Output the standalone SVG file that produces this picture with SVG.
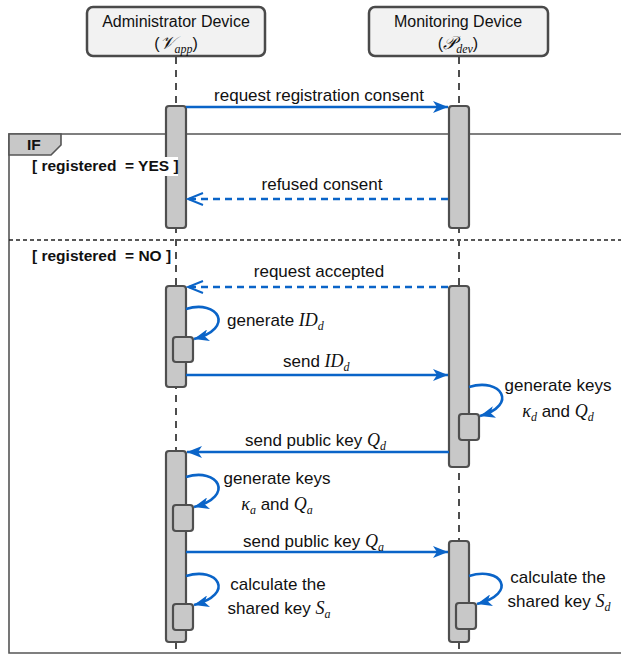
<svg xmlns="http://www.w3.org/2000/svg" width="621" height="655" viewBox="0 0 621 655">
<style>
.head{fill:#f2f2f2;stroke:#4a4a4a;stroke-width:2.5}
.life{stroke:#4d4d4d;stroke-width:2;stroke-dasharray:7 6;fill:none}
.bar{fill:#c8c8c8;stroke:#4f4f4f;stroke-width:2.2}
.t{font-family:"Liberation Sans",Arial,sans-serif;font-size:16px;fill:#111}
.l{font-size:17px}
.m{font-family:"Liberation Serif","Times New Roman",serif;font-style:italic;font-size:18px}
.sub{font-family:"Liberation Serif","Times New Roman",serif;font-style:italic;font-size:12px}
.b{font-family:"Liberation Sans",Arial,sans-serif;font-size:15.5px;font-weight:bold;fill:#111;white-space:pre}
.msg{stroke:#0a64c8;stroke-width:2.3;fill:none}
.loop{stroke-width:2.6}
.dash{stroke-dasharray:7 5}
.frame{fill:none;stroke:#555;stroke-width:1.6}
</style>
<defs>
<marker id="ah" markerUnits="userSpaceOnUse" markerWidth="16" markerHeight="12" refX="15" refY="6" orient="auto">
<path d="M0,0 L15,6 L0,12 L4,6 z" fill="#0a64c8"/>
</marker>
<marker id="ao" markerUnits="userSpaceOnUse" markerWidth="18" markerHeight="16" refX="16" refY="8" orient="auto">
<path d="M1,2 L16,8 L1,14" fill="none" stroke="#0a64c8" stroke-width="2"/>
</marker>
</defs>

<g id="frame">
<path class="frame" d="M625,134 H9 V653 H625"/>
<path d="M9,134 H61 V145 L51,155 H9 Z" fill="#c8c8c8" stroke="#555" stroke-width="1.6"/>
<text class="b" x="27" y="150">IF</text>
<line x1="9" y1="240" x2="621" y2="240" stroke="#222" stroke-width="1.3" stroke-dasharray="4 3"/>
</g>

<g id="lifelines">
<line class="life" x1="176" y1="57" x2="176" y2="655"/>
<line class="life" x1="459" y1="57" x2="459" y2="655"/>
</g>

<g id="admin">
<rect class="head" x="87" y="7" width="178" height="49" rx="6"/>
<text class="t" x="176" y="27" text-anchor="middle">Administrator Device</text>
<text class="t" x="176" y="49" text-anchor="middle">(<tspan class="m">𝒱</tspan><tspan class="sub" dy="4">app</tspan><tspan dy="-4">)</tspan></text>
</g>

<g id="monitor">
<rect class="head" x="369" y="7" width="179" height="49" rx="6"/>
<text class="t" x="458" y="27" text-anchor="middle">Monitoring Device</text>
<text class="t" x="458" y="49" text-anchor="middle">(<tspan class="m">𝒫</tspan><tspan class="sub" dy="4">dev</tspan><tspan dy="-4">)</tspan></text>
</g>

<g id="admin-act1"><rect class="bar" x="166" y="106" width="20" height="122" rx="3"/></g>
<g id="monitor-act1"><rect class="bar" x="449" y="106" width="20" height="122" rx="3"/></g>
<g id="admin-act2">
<rect class="bar" x="166" y="286" width="20" height="101" rx="3"/>
<rect class="bar" x="173" y="337" width="20" height="25" rx="3"/>
</g>
<g id="monitor-act2">
<rect class="bar" x="449" y="286" width="20" height="181" rx="3"/>
<rect class="bar" x="459" y="414" width="20" height="26" rx="3"/>
</g>
<g id="admin-act3">
<rect class="bar" x="166" y="451" width="20" height="191" rx="3"/>
<rect class="bar" x="173" y="505" width="20" height="26" rx="3"/>
<rect class="bar" x="173" y="604" width="20" height="26" rx="3"/>
</g>
<g id="monitor-act3">
<rect class="bar" x="449" y="541" width="20" height="101" rx="3"/>
<rect class="bar" x="456" y="603" width="20" height="26" rx="3"/>
</g>

<g id="guards">
<rect x="30" y="157" width="148" height="19" fill="#fff"/>
<text class="b" x="32" y="171">[ registered  = YES ]</text>
<rect x="30" y="247" width="141" height="19" fill="#fff"/>
<text class="b" x="32" y="261">[ registered  = NO ]</text>
</g>

<g id="connectors">
<line class="msg" x1="186" y1="107" x2="448" y2="107" marker-end="url(#ah)"/>
<line class="msg dash" x1="448" y1="199" x2="188" y2="199" marker-end="url(#ao)"/>
<line class="msg dash" x1="448" y1="287" x2="188" y2="287" marker-end="url(#ao)"/>
<path class="msg loop" d="M186,309 C218,299 236,328 194,339" marker-end="url(#ah)"/>
<line class="msg" x1="186" y1="375" x2="448" y2="375" marker-end="url(#ah)"/>
<path class="msg loop" d="M469,387 C501,377 519,405 480,416" marker-end="url(#ah)"/>
<line class="msg" x1="449" y1="452" x2="187" y2="452" marker-end="url(#ah)"/>
<path class="msg loop" d="M186,477 C218,467 236,496 194,507" marker-end="url(#ah)"/>
<line class="msg" x1="186" y1="552" x2="448" y2="552" marker-end="url(#ah)"/>
<path class="msg loop" d="M186,576 C218,566 236,594 194,605" marker-end="url(#ah)"/>
<path class="msg loop" d="M469,576 C501,566 519,593 477,604" marker-end="url(#ah)"/>
</g>

<g id="labels">
<text class="t l" x="319" y="101" text-anchor="middle">request registration consent</text>
<text class="t l" x="322" y="190" text-anchor="middle">refused consent</text>
<text class="t l" x="319" y="277" text-anchor="middle">request accepted</text>
<text class="t l" x="227" y="326">generate <tspan class="m">ID</tspan><tspan class="sub" dy="4">d</tspan></text>
<text class="t l" x="283" y="367">send <tspan class="m">ID</tspan><tspan class="sub" dy="4">d</tspan></text>
<text class="t l" x="558" y="391" text-anchor="middle">generate keys</text>
<text class="t l" x="558" y="417" text-anchor="middle"><tspan class="m">κ</tspan><tspan class="sub" dy="4">d</tspan><tspan dy="-4"> and </tspan><tspan class="m">Q</tspan><tspan class="sub" dy="4">d</tspan></text>
<text class="t l" x="245" y="446">send public key <tspan class="m">Q</tspan><tspan class="sub" dy="4">d</tspan></text>
<text class="t l" x="277" y="484" text-anchor="middle">generate keys</text>
<text class="t l" x="277" y="510" text-anchor="middle"><tspan class="m">κ</tspan><tspan class="sub" dy="4">a</tspan><tspan dy="-4"> and </tspan><tspan class="m">Q</tspan><tspan class="sub" dy="4">a</tspan></text>
<text class="t l" x="243" y="547">send public key <tspan class="m">Q</tspan><tspan class="sub" dy="4">a</tspan></text>
<text class="t l" x="278" y="590" text-anchor="middle">calculate the</text>
<text class="t l" x="279" y="614" text-anchor="middle">shared key <tspan class="m">S</tspan><tspan class="sub" dy="4">a</tspan></text>
<text class="t l" x="558" y="583" text-anchor="middle">calculate the</text>
<text class="t l" x="559" y="607" text-anchor="middle">shared key <tspan class="m">S</tspan><tspan class="sub" dy="4">d</tspan></text>
</g>
</svg>
